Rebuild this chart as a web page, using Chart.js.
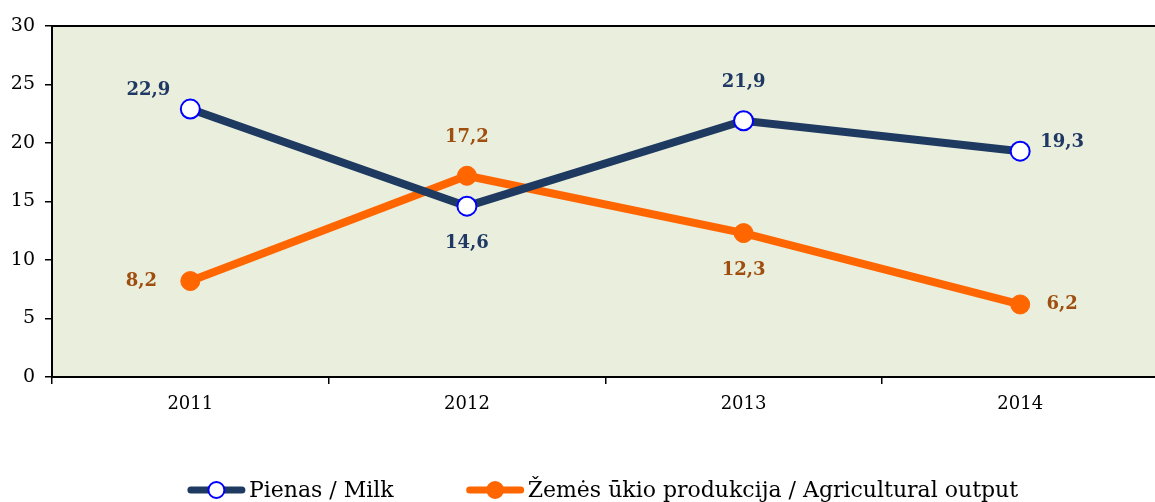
<!DOCTYPE html>
<html>
<head>
<meta charset="utf-8">
<script src="https://cdn.jsdelivr.net/npm/chart.js@4.4.0/dist/chart.umd.min.js"></script>
<style>
  html, body { margin: 0; padding: 0; background: #fff; overflow: hidden; }
  #wrap { width: 1170px; height: 502px; position: relative; }
</style>
</head>
<body>
<div id="wrap"><canvas id="chart"></canvas></div>
<script>
// Data
const years = ['2011', '2012', '2013', '2014'];
const milk = [22.9, 14.6, 21.9, 19.3];
const agri = [8.2, 17.2, 12.3, 6.2];
const yTicks = [0, 5, 10, 15, 20, 25, 30];

// where each value label sits relative to its point
const milkLabelPos = ['upleft', 'below', 'above', 'upright'];
const agriLabelPos = ['left', 'above', 'below', 'right'];

const FONT = "'DejaVu Serif', 'Liberation Serif', serif";
const navy = '#1F3A60';
const orange = '#FF6600';

const plotBg = {
    id: 'plotBg',
    beforeDraw(chart) {
        const { ctx, chartArea: a } = chart;
        ctx.save();
        ctx.fillStyle = '#EAEEDD';
        ctx.fillRect(a.left, a.top, a.right - a.left, a.bottom - a.top);
        ctx.strokeStyle = '#000';
        ctx.lineWidth = 2;
        ctx.beginPath();
        ctx.moveTo(a.left, a.top);
        ctx.lineTo(a.right, a.top);
        ctx.stroke();
        ctx.restore();
    }
};

const valueLabels = {
    id: 'valueLabels',
    afterDatasetsDraw(chart) {
        const ctx = chart.ctx;
        ctx.save();
        ctx.font = "bold 18px " + FONT;
        ctx.textAlign = 'center';
        ctx.textBaseline = 'middle';
        chart.data.datasets.forEach((ds, i) => {
            const meta = chart.getDatasetMeta(i);
            const places = i === 0 ? milkLabelPos : agriLabelPos;
            ctx.fillStyle = i === 0 ? '#1F3864' : '#9E4E0E';
            meta.data.forEach((pt, j) => {
                let dx = 0, dy = 0;
                switch (places[j]) {
                    case 'upleft': dx = -42; dy = -19; break;
                    case 'upright': dx = 42; dy = -9; break;
                    case 'below': dy = 37; break;
                    case 'above': dy = -38; break;
                    case 'right': dx = 42; break;
                    case 'left': dx = -49; break;
                }
                const txt = ds.data[j].toFixed(1).replace('.', ',');
                ctx.fillText(txt, pt.x + dx, pt.y + dy);
            });
        });
        ctx.restore();
    }
};

// legend: line + marker swatch, then the series name
const lineLegend = {
    id: 'lineLegend',
    afterDraw(chart) {
        const ctx = chart.ctx;
        const ds = chart.data.datasets;
        const y = 490, sw = 57, gapText = 4, gapItem = 73;
        ctx.save();
        ctx.font = "22px " + FONT;
        ctx.textBaseline = 'middle';
        const widths = ds.map(d => sw + gapText + ctx.measureText(d.label).width);
        const total = widths.reduce((a, b) => a + b, 0) + gapItem * (ds.length - 1);
        let x = 603 - total / 2;
        ds.forEach((d, i) => {
            ctx.strokeStyle = d.borderColor;
            ctx.lineWidth = 7;
            ctx.lineCap = 'round';
            ctx.beginPath();
            ctx.moveTo(x + 3, y); ctx.lineTo(x + sw - 3, y);
            ctx.stroke();
            ctx.beginPath();
            ctx.arc(x + sw / 2, y, 8, 0, Math.PI * 2);
            ctx.fillStyle = d.pointBackgroundColor;
            ctx.fill();
            ctx.lineWidth = 2;
            ctx.strokeStyle = d.pointBorderColor;
            ctx.stroke();
            ctx.fillStyle = '#000';
            ctx.fillText(d.label, x + sw + gapText, y + 1);
            x += widths[i] + gapItem;
        });
        ctx.restore();
    }
};

new Chart(document.getElementById('chart'), {
    type: 'line',
    data: {
        labels: years,
        datasets: [
            {
                label: 'Pienas / Milk',
                data: milk,
                borderColor: navy,
                borderWidth: 8,
                pointRadius: 9.5,
                pointBackgroundColor: '#fff',
                pointBorderColor: '#0000FF',
                pointBorderWidth: 2,
                tension: 0
            },
            {
                label: 'Žemės ūkio produkcija / Agricultural output',
                data: agri,
                borderColor: orange,
                borderWidth: 8,
                pointRadius: 9.5,
                pointBackgroundColor: orange,
                pointBorderColor: orange,
                pointBorderWidth: 1,
                tension: 0
            }
        ]
    },
    options: {
        responsive: true,
        maintainAspectRatio: false,
        animation: false,
        layout: { padding: { top: 26, right: 7, left: 0, bottom: 65 } },
        plugins: {
            tooltip: { enabled: false },
            legend: { display: false }
        },
        scales: {
            x: {
                offset: true,
                grid: {
                    offset: true,
                    drawOnChartArea: false,
                    drawTicks: true,
                    tickLength: 7,
                    color: '#000',
                    lineWidth: 1.5
                },
                border: { color: '#000', width: 2 },
                ticks: { color: '#000', padding: 10, font: { family: FONT, size: 18 } },
                afterFit(scale) { scale.height = 60; }
            },
            y: {
                min: 0,
                max: 30,
                afterBuildTicks(scale) { scale.ticks = yTicks.map(v => ({ value: v })); },
                grid: {
                    drawOnChartArea: false,
                    drawTicks: true,
                    tickLength: 7,
                    color: '#000',
                    lineWidth: 1.5
                },
                border: { color: '#000', width: 2 },
                ticks: { color: '#000', padding: 10, font: { family: FONT, size: 19 } },
                afterFit(scale) { scale.width = 52; }
            }
        }
    },
    plugins: [plotBg, valueLabels, lineLegend]
});
</script>
</body>
</html>
